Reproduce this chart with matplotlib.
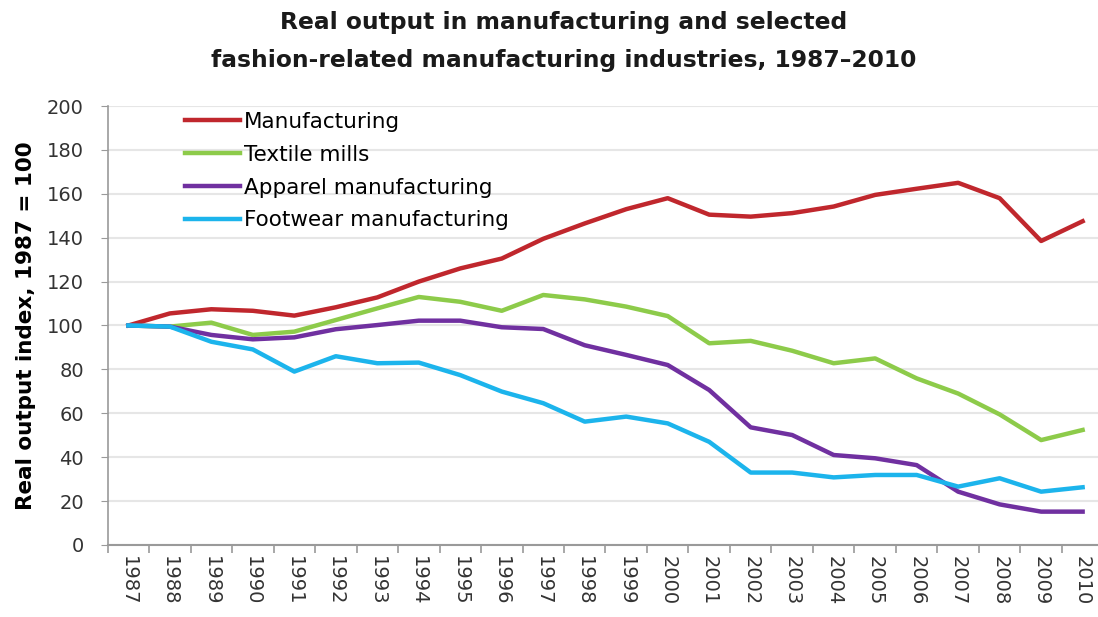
import matplotlib
matplotlib.use("Agg")
import matplotlib.pyplot as plt

years = [str(y) for y in range(1987, 2011)]

manufacturing = [100, 105.5, 107.4, 106.7, 104.5, 108.3, 112.8, 120, 126, 130.5, 139.5, 146.5,
                 153, 158, 150.5, 149.6, 151.2, 154.2, 159.5, 162.3, 165, 158, 138.5, 147.5]
textile_mills = [100, 99.5, 101.3, 95.7, 97.2, 102.5, 107.8, 113, 110.8, 106.7, 113.9, 111.9,
                 108.6, 104.3, 91.9, 93, 88.5, 82.8, 85, 75.9, 69, 59.5, 47.8, 52.4]
apparel = [100, 99.5, 95.7, 93.7, 94.6, 98.3, 100.2, 102.2, 102.2, 99.2, 98.4, 91,
           86.6, 82, 70.6, 53.6, 50.1, 41, 39.5, 36.4, 24.3, 18.5, 15.2, 15.2]
footwear = [100, 99.5, 92.6, 89.1, 79, 86, 82.8, 83.1, 77.4, 69.9, 64.6, 56.2,
            58.5, 55.4, 47, 33, 33, 30.8, 31.9, 31.9, 26.6, 30.4, 24.3, 26.3]

series = [
    ("Manufacturing", manufacturing, "#C0272D"),
    ("Textile mills", textile_mills, "#8DCB4A"),
    ("Apparel manufacturing", apparel, "#7030A0"),
    ("Footwear manufacturing", footwear, "#1CB4EC"),
]

plt.rcParams["font.family"] = ["DejaVu Sans"]

fig = plt.figure(figsize=(10.98, 6.17), dpi=100)
ax = fig.add_axes([0.098, 0.1167, 0.905, 0.7115])

x = list(range(len(years)))
for name, vals, col in series:
    ax.plot(x, vals, color=col, lw=3.2, label=name, solid_joinstyle="round")

ax.set_ylim(0, 200)
ax.set_yticks(range(0, 201, 20))
ax.set_xlim(-0.5, 23.45)
ax.set_xticks(x)
ax.set_xticklabels(years, rotation=-90, fontsize=14, color="#333333")
ax.set_xticks([i + 0.5 for i in range(-1, 23)], minor=True)
ax.tick_params(axis="x", which="major", length=0, pad=8)
ax.tick_params(axis="x", which="minor", length=6, color="#9a9a9a", width=1.2, direction="out")
ax.tick_params(axis="y", labelsize=14, labelcolor="#333333", length=5, color="#9a9a9a", pad=12)

ax.grid(axis="y", color="#e6e6e6", lw=1.5)
ax.set_axisbelow(True)
for side in ["top", "right"]:
    ax.spines[side].set_visible(False)
ax.spines["left"].set_color("#9a9a9a")
ax.spines["bottom"].set_color("#9a9a9a")
ax.spines["left"].set_linewidth(1.2)
ax.spines["bottom"].set_linewidth(1.5)

ax.set_ylabel("Real output index, 1987 = 100", fontsize=15.5, fontweight="bold", labelpad=8)

ax.legend(loc="upper left", bbox_to_anchor=(0.0775, 0.987), frameon=False, fontsize=15.5,
          handlelength=2.55, handletextpad=0.2, labelspacing=0.6, borderaxespad=0,
          borderpad=0)

fig.text(0.513, 1 - 22 / 617, "Real output in manufacturing and selected",
         ha="center", va="center", fontsize=16.8, fontweight="bold", color="#1a1a1a")
fig.text(0.513, 1 - 60 / 617, "fashion-related manufacturing industries, 1987\u20132010",
         ha="center", va="center", fontsize=16.8, fontweight="bold", color="#1a1a1a")

fig.savefig("out.png", dpi=100)
